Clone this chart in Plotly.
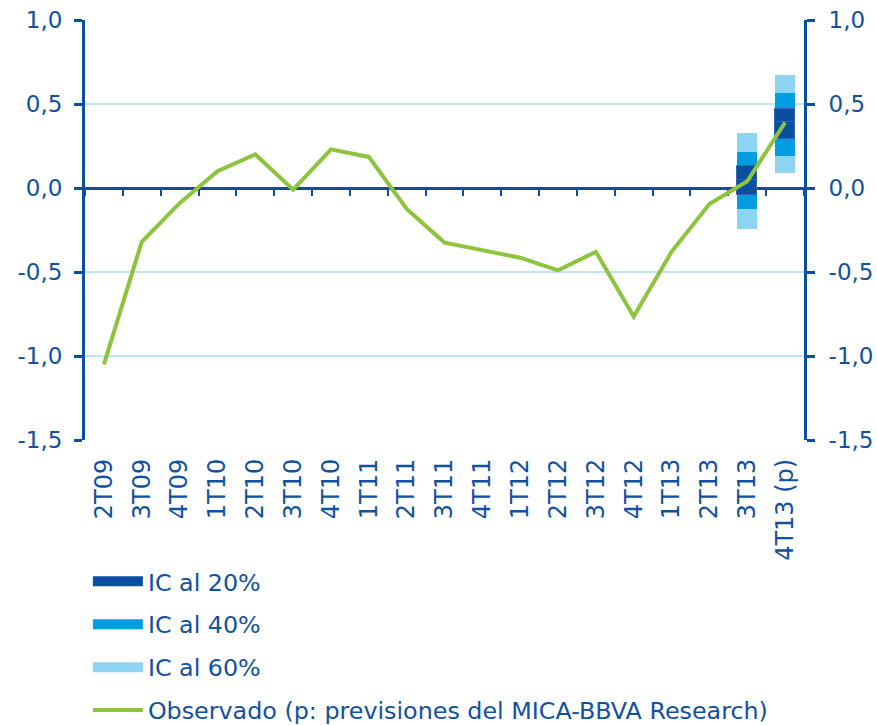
import plotly.graph_objects as go

# data
periods = ['2T09', '3T09', '4T09', '1T10', '2T10', '3T10', '4T10', '1T11', '2T11', '3T11',
           '4T11', '1T12', '2T12', '3T12', '4T12', '1T13', '2T13', '3T13', '4T13 (p)']
observado = [-1.05, -0.32, -0.09, 0.10, 0.20, -0.01, 0.23, 0.185, -0.125, -0.325,
             -0.37, -0.415, -0.49, -0.38, -0.765, -0.38, -0.095, 0.04, 0.39]

fan_periods = ['3T13', '4T13 (p)']
ic60_lo = [-0.245, 0.09]
ic40_lo = [-0.125, 0.19]
ic20_lo = [-0.04, 0.29]
centro = [0.045, 0.39]
ic20_hi = [0.13, 0.47]
ic40_hi = [0.215, 0.565]
ic60_hi = [0.33, 0.67]

y_ticks = [-1.5, -1.0, -0.5, 0.0, 0.5, 1.0]
y_ticktext = ['-1,5', '-1,0', '-0,5', '0,0', '0,5', '1,0']

legend_names = ['IC al 20%', 'IC al 40%', 'IC al 60%']
obs_name = 'Observado (p: previsiones del MICA-BBVA Research)'

# styles
navy = '#0b4ea2'
text_col = '#11519f'
grid_col = '#bde6f7'
c20, c40, c60 = '#0a4ea1', '#009ee0', '#8dd3f4'
green = '#8cc43c'
bar_w = 0.53


def band(lo, hi, color, line_col=None):
	return go.Bar(
		x=fan_periods, y=[h - l for l, h in zip(lo, hi)], base=lo,
		width=bar_w, marker={'color': color,
			'line': {'width': 1 if line_col else 0, 'color': line_col or color}},
		showlegend=False, hoverinfo='skip',
	)


fig = go.Figure()
fig.add_trace(band(ic60_lo, ic60_hi, c60))
fig.add_trace(band(ic40_lo, ic40_hi, c40))
fig.add_trace(band(ic20_lo, centro, c20, '#2f67b2'))
fig.add_trace(band(centro, ic20_hi, c20, '#2f67b2'))

# observed line, on the free x axis placed at y = 0 and on the right y axis
fig.add_trace(go.Scatter(
	x=periods, y=observado, mode='lines', xaxis='x2', yaxis='y2',
	line={'color': green, 'width': 4}, showlegend=False,
))

# legend proxies
for name, col in zip(legend_names, [c20, c40, c60]):
	fig.add_trace(go.Scatter(x=[None], y=[None], mode='lines', name=name,
		legendgroup=name, line={'color': col, 'width': 14}))
fig.add_trace(go.Scatter(x=[None], y=[None], mode='lines', name=obs_name,
	legendgroup='obs', line={'color': green, 'width': 4}))

axis_common = dict(
	type='category', categoryorder='array', categoryarray=periods,
	range=[-0.5, len(periods) - 0.5], fixedrange=True, automargin=False,
)
yaxis_common = dict(
	range=[-1.5, 1.0], tickvals=y_ticks, ticktext=y_ticktext, zeroline=False,
	showline=True, linecolor=navy, linewidth=3,
	ticks='outside', ticklen=8, tickwidth=3, tickcolor=navy,
	fixedrange=True, automargin=False,
	tickfont={'family': 'DejaVu Sans', 'size': 23, 'color': text_col},
)

fig.update_layout(
	width=877, height=725,
	margin={'l': 85, 'r': 73, 't': 20, 'b': 285, 'autoexpand': False},
	paper_bgcolor='white', plot_bgcolor='white',
	barmode='overlay', bargap=0,
	font={'family': 'DejaVu Sans', 'size': 23, 'color': text_col},
	xaxis=dict(
		**axis_common, showline=False, showgrid=False, ticks='',
		tickangle=-90, ticklabelstandoff=13,
		tickfont={'family': 'DejaVu Sans', 'size': 24, 'color': text_col},
	),
	xaxis2=dict(
		**axis_common, overlaying='x', anchor='free', position=0.6,
		showline=True, linecolor=navy, linewidth=3, layer='below traces',
		ticks='outside', tickson='boundaries', ticklen=6, tickwidth=2, tickcolor=navy,
		showticklabels=False, showgrid=False,
	),
	yaxis=dict(**yaxis_common, showgrid=True, gridcolor=grid_col, gridwidth=2,
		ticklabelstandoff=7),
	yaxis2=dict(**yaxis_common, overlaying='y', side='right', anchor='x', showgrid=False,
		ticklabelstandoff=9),
	showlegend=True,
	legend=dict(
		x=0.004, y=-0.284, xanchor='left', yanchor='top',
		orientation='v', tracegroupgap=9, itemwidth=50,
		font={'family': 'DejaVu Sans', 'size': 23.8, 'color': text_col},
		bgcolor='rgba(0,0,0,0)',
	),
)

# page has the default 8px body margin; remove it so the figure sits at 0,0
fig.write_html(
	'out.html',
	config={'displayModeBar': False},
	post_script="document.body.style.margin='0';",
)
